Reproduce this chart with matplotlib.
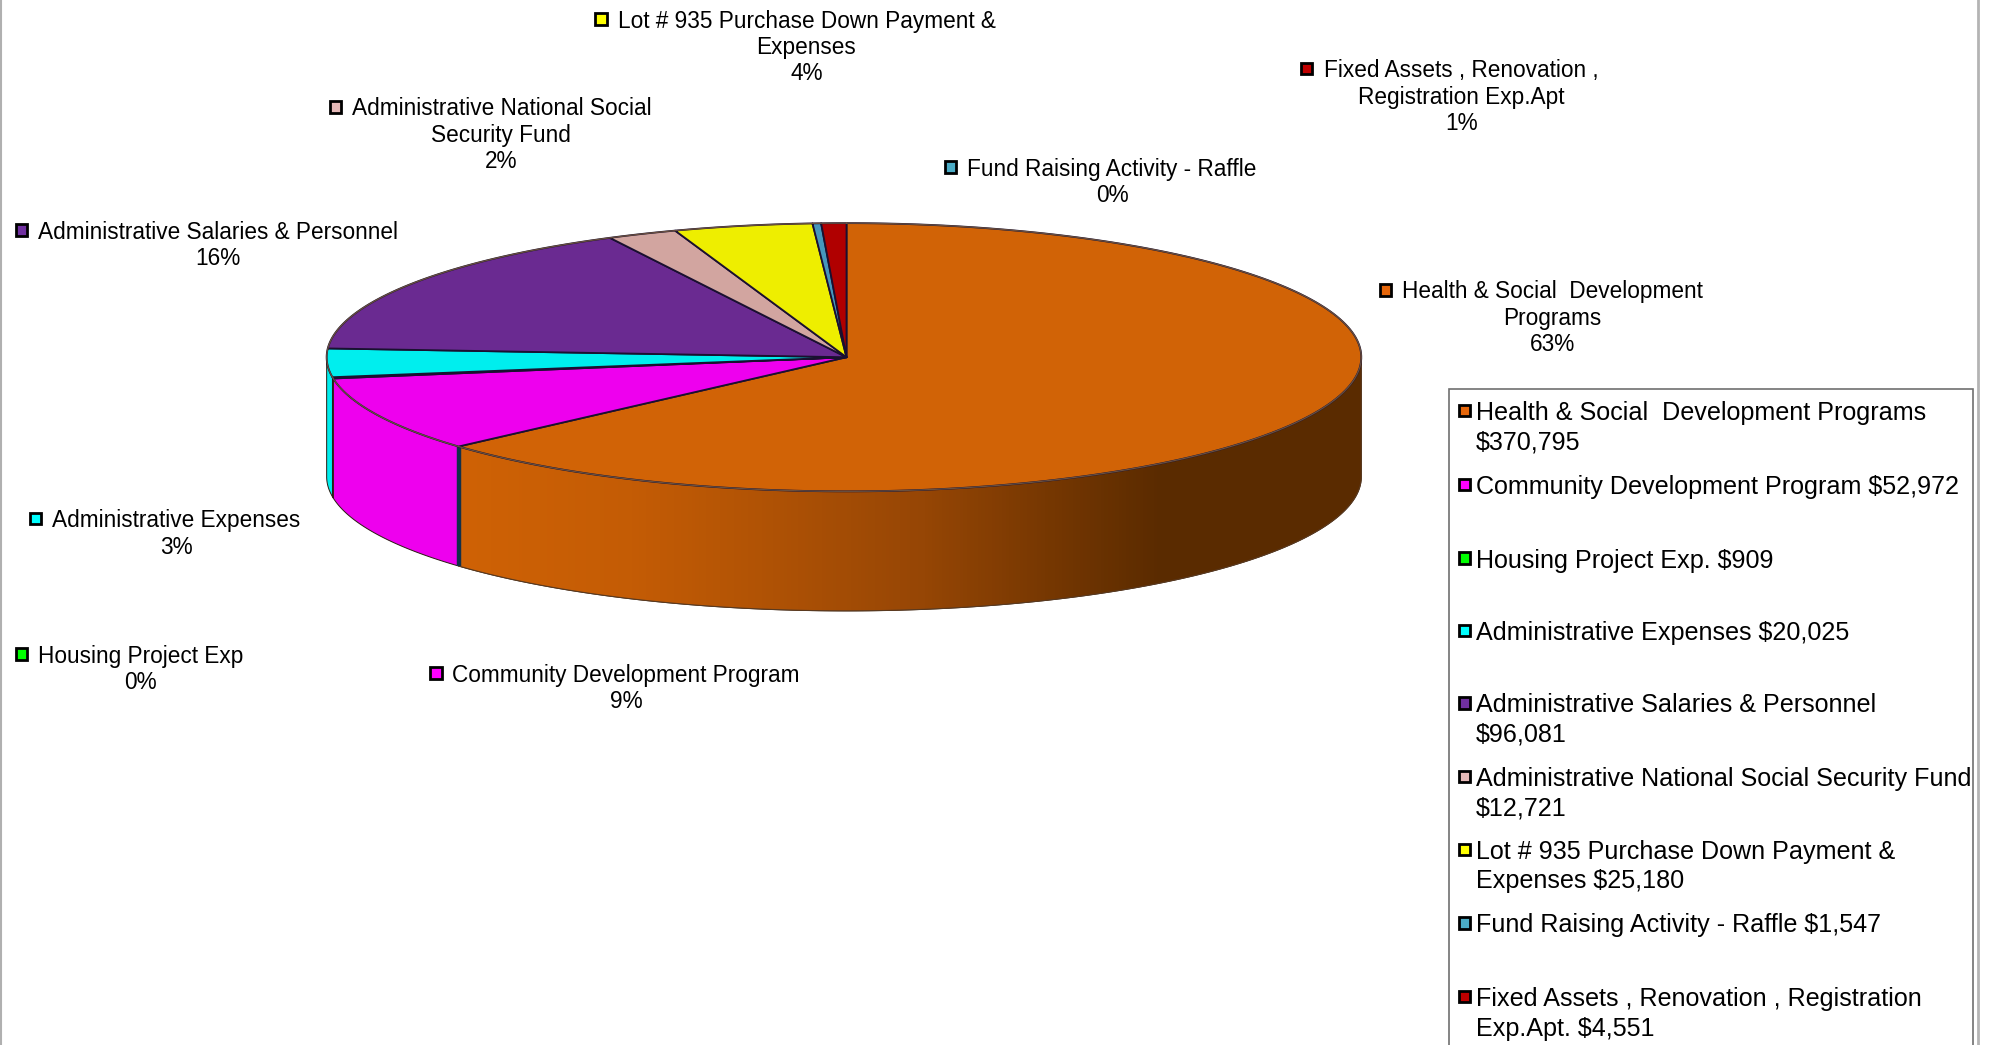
import numpy as np
import matplotlib
matplotlib.use('Agg')
import matplotlib.pyplot as plt
from matplotlib.colors import LinearSegmentedColormap
from matplotlib.patches import Polygon, Rectangle

plt.rcParams['font.family'] = ['Liberation Sans', 'DejaVu Sans']

# data, clockwise from 12 o'clock
amounts = [370795, 52972, 909, 20025, 96081, 12721, 25180, 1547, 4551]
label_names = [
    'Health & Social  Development\nPrograms',
    'Community Development Program',
    'Housing Project Exp',
    'Administrative Expenses',
    'Administrative Salaries & Personnel',
    'Administrative National Social\nSecurity Fund',
    'Lot # 935 Purchase Down Payment &\nExpenses',
    'Fund Raising Activity - Raffle',
    'Fixed Assets , Renovation ,\nRegistration Exp.Apt',
]
legend_names = [
    'Health & Social  Development Programs\n',
    'Community Development Program ',
    'Housing Project Exp. ',
    'Administrative Expenses ',
    'Administrative Salaries & Personnel\n',
    'Administrative National Social Security Fund\n',
    'Lot # 935 Purchase Down Payment &\nExpenses ',
    'Fund Raising Activity - Raffle ',
    'Fixed Assets , Renovation , Registration\nExp.Apt. ',
]
key_colors = ['#E6660A', '#FF00FF', '#00FF00', '#00FFFF', '#7030A0',
              '#E6B9B8', '#FFFF00', '#4BACC6', '#C00000']
pie_colors = ['#D16306', '#EE00EE', '#00DD00', '#00EEEE', '#6A2A91',
              '#D2A5A0', '#EEEE00', '#4696BC', '#B00000']

# layout, in the coordinates of a 1568x822 view
cx, cy, rx_right, rx_left, ry, depth = 666, 281, 405, 409, 105.5, 94
label_keys = [(1090, 228), (343, 529.5), (17, 514.5), (28, 408), (17, 181),
              (264, 84), (473, 15), (748, 131.5), (1028, 54)]
label_centers = [1221.5, 492.5, 110.5, 138.5, 171.5, 394.5, 634.5, 875, 1149.5]
legend_rows = [323, 381, 439, 496, 553, 611, 668, 726, 784]

fig = plt.figure(figsize=(19.93, 10.45), dpi=100)
ax = fig.add_axes([0, 0, 1, 1])
ax.set_xlim(0, 1568)
ax.set_ylim(822, 0)
ax.axis('off')


def rim(t0, t1, drop=0):
    t = np.radians(np.linspace(t0, t1, 200))
    s = np.sin(t)
    return np.column_stack([cx + np.where(s > 0, rx_right, rx_left) * s,
                            cy - ry * np.cos(t) + drop])


edges = np.concatenate([[0], np.cumsum(amounts)]) / sum(amounts) * 360

# side wall
side_cmap = LinearSegmentedColormap.from_list(
    'wall', [(0, '#CF6206'), (0.19, '#C45C05'), (0.32, '#B35405'),
             (0.515, '#964605'), (0.65, '#773802'), (0.78, '#5A2B00'), (1, '#5A2B00')])
for i in range(len(amounts)):
    t0, t1 = edges[i], edges[i + 1]
    t0v, t1v = max(t0, 90), min(t1, 270)
    if t1v <= t0v:
        continue
    top = rim(t0v, t1v)
    poly = Polygon(np.vstack([top, rim(t1v, t0v, depth)]), closed=True,
                   facecolor=pie_colors[i], edgecolor='#2A1A10', lw=0.7, zorder=2)
    ax.add_patch(poly)
    if i == 0:
        x0 = top[:, 0].min()
        im = ax.imshow(np.linspace(0, 1, 256)[None, :], cmap=side_cmap, aspect='auto',
                       extent=(x0, cx + rx_right, cy + depth + ry + 2, cy - 2), zorder=2.5)
        im.set_clip_path(poly)
        ax.add_patch(Polygon(poly.get_xy(), closed=True, fill=False,
                             edgecolor='#5A3A20', lw=0.8, zorder=2.6))
ax.set_xlim(0, 1568)
ax.set_ylim(822, 0)

# dark strip where the tall wall ends
p0 = rim(edges[1], edges[1])[0]
ax.plot([p0[0], p0[0]], [p0[1], p0[1] + depth], color='#12304A', lw=3.2,
        solid_capstyle='butt', zorder=3)

# top face
for i in range(len(amounts)):
    ax.add_patch(Polygon(np.vstack([[cx, cy], rim(edges[i], edges[i + 1])]), closed=True,
                         facecolor=pie_colors[i], edgecolor='#1A1030', lw=1.3,
                         joinstyle='round', zorder=4))
outline = rim(0, 360)
ax.plot(outline[:, 0], outline[:, 1], color='#6A5040', lw=0.9, zorder=5)

# data labels
pct = [round(v / sum(amounts) * 100) for v in amounts]
for i in range(len(amounts)):
    kx, ky = label_keys[i]
    ax.add_patch(Rectangle((kx - 4.5, ky - 4.5), 9, 9, facecolor=key_colors[i],
                           edgecolor='black', lw=2, zorder=6))
    ax.text(label_centers[i], ky - 7.5, f'{label_names[i]}\n{pct[i]}%', ha='center',
            va='top', multialignment='center', fontsize=16.3, linespacing=1.19,
            color='black', zorder=6)

# legend box, it runs past the bottom of the picture
ax.add_patch(Rectangle((1140, 306), 412, 530, facecolor='white', edgecolor='#707070',
                       lw=1.2, zorder=1))
for i in range(len(amounts)):
    y = legend_rows[i]
    ax.add_patch(Rectangle((1147.5, y - 4.5), 9, 9, facecolor=key_colors[i],
                           edgecolor='black', lw=2, zorder=6))
    ax.text(1161, y - 7.5, f'{legend_names[i]}${amounts[i]:,}', ha='left', va='top',
            fontsize=18.05, linespacing=1.29, color='black', zorder=6)

# frame lines, the right one stops short of the picture edge
ax.plot([0.5, 0.5], [0, 822], color='#B0B0B0', lw=1.5, zorder=7)
ax.plot([1556, 1556], [0, 822], color='#B4B4B4', lw=2, zorder=7)

fig.savefig('out.png', dpi=100)
